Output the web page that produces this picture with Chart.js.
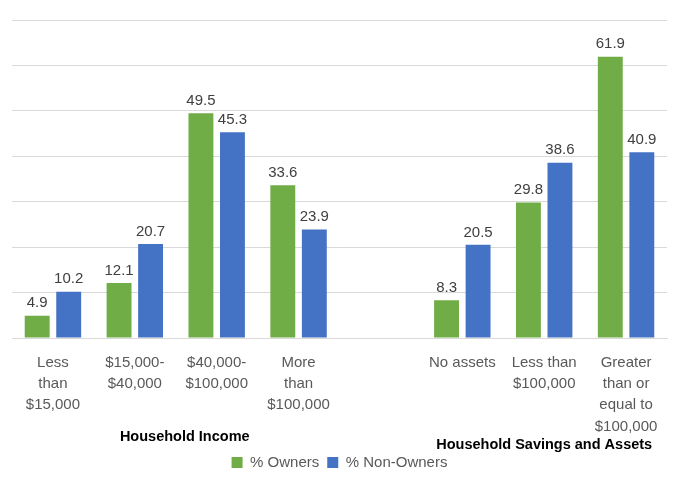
<!DOCTYPE html>
<html>
<head>
<meta charset="utf-8">
<script src="https://cdn.jsdelivr.net/npm/chart.js@4.4.0/dist/chart.umd.min.js"></script>
<style>
  html, body { margin: 0; padding: 0; background: #fff; }
  #wrap { width: 684px; height: 480px; }
</style>
</head>
<body>
<div id="wrap"><canvas id="myChart"></canvas></div>
<script>
  const categories = [
    ['Less', 'than', '$15,000'],
    ['$15,000-', '$40,000'],
    ['$40,000-', '$100,000'],
    ['More', 'than', '$100,000'],
    '',
    'No assets',
    ['Less than', '$100,000'],
    ['Greater', 'than or', 'equal to', '$100,000']
  ];
  const owners = [4.9, 12.1, 49.5, 33.6, null, 8.3, 29.8, 61.9];
  const nonOwners = [10.2, 20.7, 45.3, 23.9, null, 20.5, 38.6, 40.9];
  const groupTitles = ['Household Income', 'Household Savings and Assets'];
  const groupRanges = [[0, 3], [5, 7]];

  const fontFamily = "'Liberation Sans', Arial, sans-serif";

  // value labels above bars
  const barLabels = {
    id: 'barLabels',
    afterDatasetsDraw(chart) {
      const ctx = chart.ctx;
      ctx.save();
      ctx.font = '15px ' + fontFamily;
      ctx.fillStyle = '#404040';
      ctx.textAlign = 'center';
      ctx.textBaseline = 'bottom';
      chart.data.datasets.forEach((ds, i) => {
        chart.getDatasetMeta(i).data.forEach((bar, j) => {
          if (ds.data[j] == null) return;
          ctx.fillText(ds.data[j].toFixed(1), bar.x, bar.y - 5);
        });
      });
      ctx.restore();
    }
  };

  // group titles under the category labels
  const groupTitlePlugin = {
    id: 'groupTitles',
    afterDraw(chart) {
      const ctx = chart.ctx;
      const x = chart.scales.x;
      ctx.save();
      ctx.font = 'bold 14.5px ' + fontFamily;
      ctx.fillStyle = '#000';
      ctx.textAlign = 'center';
      ctx.textBaseline = 'middle';
      const ys = [437, 445];
      const dx = [9, 0];
      groupRanges.forEach((r, i) => {
        const cx = (x.getPixelForValue(r[0]) + x.getPixelForValue(r[1])) / 2 + dx[i];
        ctx.fillText(groupTitles[i], cx, ys[i]);
      });
      ctx.restore();
    }
  };

  const ctx = document.getElementById('myChart');
  new Chart(ctx, {
    type: 'bar',
    data: {
      labels: categories,
      datasets: [{
        label: '% Owners',
        data: owners,
        backgroundColor: '#70ad47',
        categoryPercentage: 0.77,
        barPercentage: 0.79
      }, {
        label: '% Non-Owners',
        data: nonOwners,
        backgroundColor: '#4472c4',
        categoryPercentage: 0.77,
        barPercentage: 0.79
      }]
    },
    options: {
      responsive: true,
      maintainAspectRatio: false,
      animation: false,
      layout: { padding: { left: 12, right: 17, top: 20, bottom: 0 } },
      plugins: {
        tooltip: { enabled: false },
        legend: {
          position: 'bottom',
          labels: {
            boxWidth: 11,
            boxHeight: 11,
            padding: 8,
            color: '#595959',
            font: { family: fontFamily, size: 15 }
          }
        }
      },
      scales: {
        x: {
          grid: { display: false },
          border: { color: '#d9d9d9' },
          ticks: {
            color: '#595959',
            maxRotation: 0,
            autoSkip: false,
            padding: 6,
            font: { family: fontFamily, size: 15, lineHeight: 1.42 }
          },
          afterFit(scale) { scale.height = 109; }
        },
        y: {
          min: 0,
          max: 70,
          ticks: { stepSize: 10, display: false },
          grid: { color: '#d9d9d9', drawTicks: false },
          border: { display: false }
        }
      }
    },
    plugins: [barLabels, groupTitlePlugin]
  });
</script>
</body>
</html>
